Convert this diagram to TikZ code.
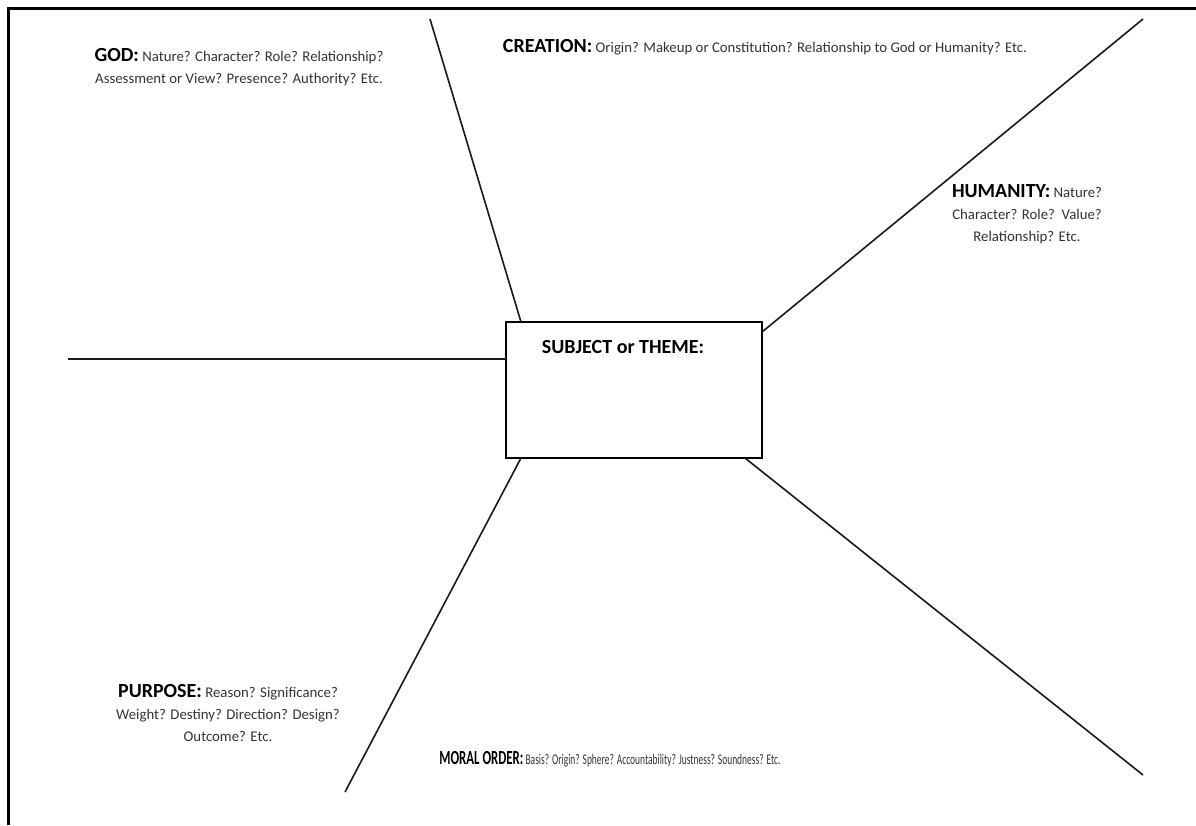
\documentclass[tikz,border=0pt]{standalone}
\usepackage{fontspec}
\setmainfont{Carlito}
\usepackage{xcolor}
\usepackage{tikz}
\definecolor{qtext}{HTML}{333333}
\newcommand{\hd}[1]{{\fontsize{20}{22}\selectfont\bfseries\color{black}#1}}

\begin{document}
\begin{tikzpicture}[x=1pt,y=-1pt,
    spoke/.style={line width=1.6pt, color=black!90},
    topic/.style={align=center, inner sep=0pt, text=qtext, font=\fontsize{14.8}{22}\selectfont},
    box/.style={draw, line width=1.4pt, minimum width=256pt, minimum height=136pt, inner sep=0pt, outer sep=0pt}]
    \useasboundingbox (0,0) rectangle (1196,825);
    \draw[line width=3pt] (1196,8.5) -- (8.5,8.5) -- (8.5,825);

    \node[box] (subj) at (634,390) {};
    \node[topic] (subjlbl) at (623,347) {\hd{SUBJECT or THEME:}};

    \coordinate (godend) at (430,19);
    \coordinate (creaend) at (1143,19);
    \coordinate (leftend) at (68,359);
    \coordinate (purpend) at (345,792);
    \coordinate (moralend) at (1143,775);

    \draw[spoke] ([xshift=15pt]subj.north west) -- (godend);
    \draw[spoke] ([yshift=-10pt]subj.north east) -- (creaend);
    \draw[spoke] ([yshift=-37pt]subj.north west) -- (leftend);
    \draw[spoke] ([xshift=15pt]subj.south west) -- (purpend);
    \draw[spoke] ([xshift=-17pt]subj.south east) -- (moralend);

    \node[topic] (god) at (239,67) {\hd{GOD:} Nature? Character? Role? Relationship?\\Assessment or View? Presence? Authority? Etc.};
    \node[topic] (crea) at (765,47) {\hd{CREATION:} Origin? Makeup or Constitution? Relationship to God or Humanity? Etc.};
    \node[topic] (hum) at (1027,214) {\hd{HUMANITY:} Nature?\\Character? Role?\ \ Value?\\Relationship? Etc.};
    \node[topic] (purp) at (228,713) {\hd{PURPOSE:} Reason? Significance?\\Weight? Destiny? Direction? Design?\\Outcome? Etc.};
    % this line is set narrow
    \node[topic] (moral) at (610,759) {\scalebox{0.64}[1]{\hd{MORAL ORDER:} Basis? Origin? Sphere? Accountability? Justness? Soundness? Etc.}};
\end{tikzpicture}
\end{document}
